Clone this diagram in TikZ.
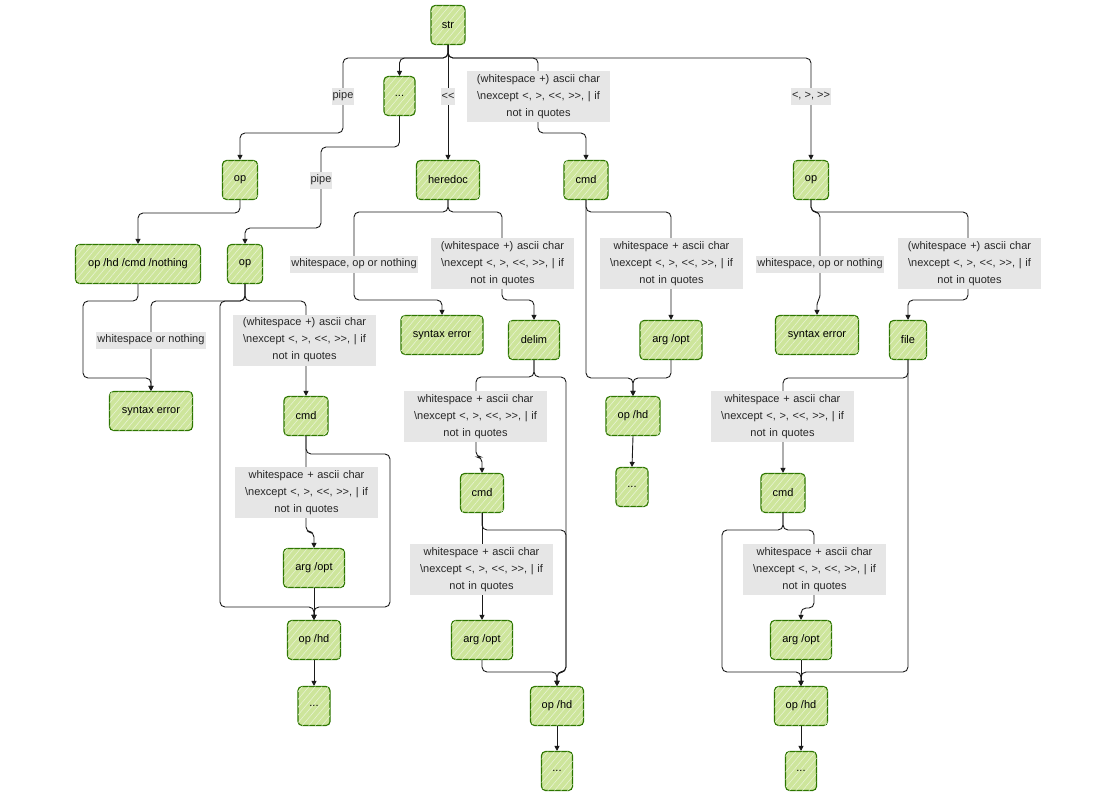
\documentclass[tikz,border=0pt]{standalone}
\usepackage{fontspec}
\setmainfont{Liberation Sans}
\usetikzlibrary{arrows.meta,patterns.meta}
\definecolor{boxfill}{HTML}{CDE59B}
\definecolor{hatch}{HTML}{E8F3D4}
\definecolor{boxline}{HTML}{2D7600}
\definecolor{lblfill}{HTML}{E6E6E6}
\definecolor{edgecol}{HTML}{1A1A1A}
\newcommand{\exc}{<, >, <{}<, >{}>, | if}
\tikzset{
  box/.style={draw=boxline, fill=boxfill, line width=1.1pt, rounded corners=4pt,
    minimum height=39pt, inner sep=0pt, font=\fontsize{11}{13}\selectfont,
    postaction={pattern={Lines[angle=50,distance=5pt,line width=0.6pt]}, pattern color=hatch}},
  edge/.style={draw=edgecol, line width=0.9pt, rounded corners=5pt, -{Triangle[length=5pt,width=5pt]}},
  lbl/.style={fill=lblfill, inner xsep=1pt, inner ysep=0pt, minimum height=17pt,
    font=\fontsize{11}{17}\selectfont, text=black!85},
  biglbl/.style={fill=lblfill, inner sep=0pt, text width=143pt, align=center,
    minimum height=51pt, font=\fontsize{11}{17}\selectfont, text=black!85}
}
\begin{document}
\begin{tikzpicture}[x=1pt,y=-1pt]
\useasboundingbox (0,0) rectangle (1116,798);
% nodes
\node[box, minimum width=34pt] (str) at (448,25) {str};
\node[box, minimum width=31pt] (dotsA) at (399.5,96) {...};
\node[box, minimum width=35pt] (op1) at (240,180) {op};
\node[box, minimum width=63pt] (heredoc) at (448,180) {heredoc};
\node[box, minimum width=44pt] (cmd1) at (586,180) {cmd};
\node[box, minimum width=35pt] (op2) at (811,180) {op};
\node[box, minimum width=125pt] (ophdn) at (138,264) {op /hd /cmd /nothing};
\node[box, minimum width=35pt] (op3) at (245,264) {op};
\node[box, minimum width=82pt] (se2) at (442,335) {syntax error};
\node[box, minimum width=51pt] (delim) at (534,340) {delim};
\node[box, minimum width=62pt] (arg1) at (671,340) {arg /opt};
\node[box, minimum width=83pt] (se3) at (817,335) {syntax error};
\node[box, minimum width=37pt] (file) at (908,340) {file};
\node[box, minimum width=83pt] (se1) at (151,411) {syntax error};
\node[box, minimum width=44pt] (cmd2) at (306,416) {cmd};
\node[box, minimum width=54pt] (ophd1) at (633,416) {op /hd};
\node[box, minimum width=32pt] (dotsB) at (632,487) {...};
\node[box, minimum width=43pt] (cmd3) at (482,493) {cmd};
\node[box, minimum width=44pt] (cmd4) at (783,493) {cmd};
\node[box, minimum width=61pt] (arg2) at (314,568) {arg /opt};
\node[box, minimum width=53pt] (ophd2) at (314,640) {op /hd};
\node[box, minimum width=32pt] (dotsC) at (314,706) {...};
\node[box, minimum width=61pt] (arg3) at (482,640) {arg /opt};
\node[box, minimum width=53pt] (ophd3) at (557,706) {op /hd};
\node[box, minimum width=31pt] (dotsD) at (557,771) {...};
\node[box, minimum width=61pt] (arg4) at (801,640) {arg /opt};
\node[box, minimum width=53pt] (ophd4) at (801,706) {op /hd};
\node[box, minimum width=31pt] (dotsE) at (801,771) {...};
% edges from str
\draw[edge] (str.south) |- (343,58) |- (240,133) -- (op1.north);
\draw[edge] (str.south) |- (399.5,58) -- (dotsA.north);
\draw[edge] (str.south) -- (heredoc.north);
\draw[edge] (str.south) |- (538,58) |- (586,133) -- (cmd1.north);
\draw[edge] (str.south) |- (811,58) -- (op2.north);
% left part
\draw[edge] (dotsA.south) |- (321,147) |- (245,228) -- (op3.north);
\draw[edge] (op1.south) |- (138,213) -- (ophdn.north);
\draw[edge] (ophdn.south) |- (83,301) |- (151,378) -- (se1.north);
\draw[edge] (op3.south) |- (151,301) -- (se1.north);
\draw[edge] (op3.south) |- (220,301) |- (314,607) -- (ophd2.north);
\draw[edge] (op3.south) |- (306,301) -- (cmd2.north);
\draw[edge] (cmd2.south) |- (390,454) |- (314,607) -- (ophd2.north);
\draw[edge] (cmd2.south) -- (306,532) -| (arg2.north);
\draw[edge] (arg2.south) -- (ophd2.north);
\draw[edge] (ophd2.south) -- (dotsC.north);
% heredoc part
\draw[edge] (heredoc.south) |- (354,212) |- (442,300) -- (se2.north);
\draw[edge] (heredoc.south) |- (502,212) |- (534,300) -- (delim.north);
\draw[edge] (delim.south) |- (476,377) |- (482,457) -- (cmd3.north);
\draw[edge] (delim.south) |- (566,377) |- (557,672) -- (ophd3.north);
\draw[edge] (cmd3.south) |- (566,530) |- (557,672) -- (ophd3.north);
\draw[edge] (cmd3.south) -- (arg3.north);
\draw[edge] (arg3.south) |- (557,672) -- (ophd3.north);
\draw[edge] (ophd3.south) -- (dotsD.north);
% cmd1 part
\draw[edge] (cmd1.south) |- (671,212) -- (arg1.north);
\draw[edge] (cmd1.south) |- (633,378) -- (ophd1.north);
\draw[edge] (arg1.south) |- (633,378) -- (ophd1.north);
\draw[edge] (ophd1.south) -- (dotsB.north);
% op2 part
\draw[edge] (op2.south) |- (820,212) [rounded corners=1pt] -- (820,296) -- (817,304) -- (se3.north);
\draw[edge] (op2.south) |- (968,212) |- (908,300) -- (file.north);
\draw[edge] (file.south) |- (783,378) -- (cmd4.north);
\draw[edge] (file.south) |- (801,672) -- (ophd4.north);
\draw[edge] (cmd4.south) |- (722,530) |- (801,672) -- (ophd4.north);
\draw[edge] (cmd4.south) |- (814,530) |- (801,608) -- (arg4.north);
\draw[edge] (arg4.south) -- (ophd4.north);
\draw[edge] (ophd4.south) -- (dotsE.north);
% labels
\node[lbl] (l1) at (343,96) {pipe};
\node[lbl] (l2) at (448,96) {<{}<};
\node[biglbl] (l3) at (538.5,96.5) {(whitespace +) ascii char\\ \textbackslash nexcept \exc\\ not in quotes};
\node[lbl] (l4) at (811,96) {<, >, >{}>};
\node[lbl] (l5) at (321,180) {pipe};
\node[lbl] (l6) at (354,264) {whitespace, op or nothing};
\node[biglbl] (l7) at (502.5,263.5) {(whitespace +) ascii char\\ \textbackslash nexcept \exc\\ not in quotes};
\node[biglbl] (l8) at (671.5,263.5) {whitespace + ascii char\\ \textbackslash nexcept \exc\\ not in quotes};
\node[lbl] (l9) at (820,264) {whitespace, op or nothing};
\node[biglbl] (l10) at (969.5,263.5) {(whitespace +) ascii char\\ \textbackslash nexcept \exc\\ not in quotes};
\node[lbl] (l11) at (151,340) {whitespace or nothing};
\node[biglbl] (l12) at (304.5,340) {(whitespace +) ascii char\\ \textbackslash nexcept \exc\\ not in quotes};
\node[biglbl] (l13) at (475.5,416.5) {whitespace + ascii char\\ \textbackslash nexcept \exc\\ not in quotes};
\node[biglbl] (l14) at (782.5,416.5) {whitespace + ascii char\\ \textbackslash nexcept \exc\\ not in quotes};
\node[biglbl] (l15) at (306.5,492.5) {whitespace + ascii char\\ \textbackslash nexcept \exc\\ not in quotes};
\node[biglbl] (l16) at (481.5,569.5) {whitespace + ascii char\\ \textbackslash nexcept \exc\\ not in quotes};
\node[biglbl] (l17) at (814.5,569.5) {whitespace + ascii char\\ \textbackslash nexcept \exc\\ not in quotes};
\end{tikzpicture}
\end{document}
